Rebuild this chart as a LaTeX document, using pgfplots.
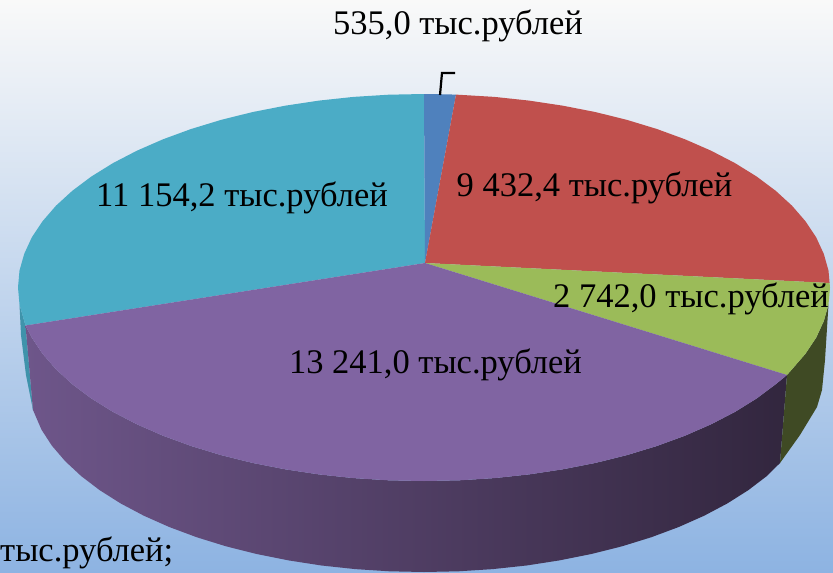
\documentclass[border=0pt]{standalone}
\usepackage{pgfplots}
\pgfplotsset{compat=1.18}
\usepackage{fontspec}
\setmainfont{Liberation Serif}
\definecolor{cblue}{HTML}{4F81BD}
\definecolor{cred}{HTML}{C0504D}
\definecolor{cgreen}{HTML}{9BBB59}
\definecolor{cpurple}{HTML}{8064A2}
\definecolor{cteal}{HTML}{4BACC6}
\definecolor{sgreen}{HTML}{3F4A24}
\definecolor{steal}{HTML}{3F93AB}
\newcommand{\lab}{\fontsize{34.5}{34.5}\selectfont}
\begin{document}
\begin{tikzpicture}
\begin{axis}[
  scale only axis,
  width=833pt,
  height=573pt,
  hide axis,
  xmin=0, xmax=833,
  ymin=0, ymax=573,
  y dir=reverse,
  every axis plot/.append style={draw=none,line join=round},
  nodes={inner sep=0pt,text=black,font=\lab},
]
% background
\addplot[shading=axis,top color={rgb,255:red,249;green,249;blue,249},middle color={rgb,255:red,230;green,237;blue,245},bottom color={rgb,255:red,141;green,179;blue,226}] coordinates {(0,0)(833,0)(833,573)(0,573)} -- cycle;
% side faces
\addplot[fill=steal] coordinates {(19.5,304.4)(25.5,325.5)(33,410)(26,375)(21,335)} -- cycle;
\addplot[left color={rgb,255:red,110;green,86;blue,138},middle color={rgb,255:red,74;green,58;blue,94},right color={rgb,255:red,50;green,38;blue,62}] coordinates {
  (25.5,325.5)(31.8,337.6)(42.5,353.7)(56,369.3)(72.4,384.3)(91.4,398.5)(113,411.9)(136.9,424.3)(163,435.7)(191.1,446)(221,455.1)(252.4,462.9)(285.1,469.3)(318.9,474.4)(353.5,478.1)(388.6,480.3)(424,481)(459.4,480.3)(494.5,478.1)(529.1,474.4)(562.9,469.3)(595.6,462.9)(627,455.1)(656.9,446)(685,435.7)(711.1,424.3)(735,411.9)(756.6,398.5)(775.6,384.3)(787,375)
  (780,463)(766.9,476)(748.4,490.1)(727.4,503.4)(704,515.8)(678.5,527.1)(651.1,537.3)(622,546.3)(591.4,554)(559.4,560.4)(526.5,565.5)(492.8,569.1)(458.5,571.3)(424,572)(389.5,571.3)(355.2,569.1)(321.5,565.5)(288.6,560.4)(256.6,554)(226,546.3)(196.9,537.3)(169.5,527.1)(144,515.8)(120.6,503.4)(99.6,490.1)(81.1,476)(65.1,461.1)(51.9,445.7)(41.5,429.7)(33,410)
} -- cycle;
\addplot[fill=sgreen] coordinates {(787,375)(792,369.3)(805.5,353.7)(816.2,337.6)(823.8,321.1)(828.5,304.4)(825,360)(822,390)(817,407)(800,435)(780,463)} -- cycle;
% top faces
\addplot[fill=cteal] coordinates {(425,263)(25.5,325.5)(19.5,304.4)(18,287.5)(19.5,270.6)(24.2,253.9)(31.8,237.4)(42.5,221.3)(56,205.7)(72.4,190.7)(91.4,176.5)(113,163.1)(136.9,150.7)(163,139.3)(191.1,129)(221,119.9)(252.4,112.1)(285.1,105.7)(318.9,100.6)(353.5,96.9)(388.6,94.7)(424,94)} -- cycle;
\addplot[fill=cblue] coordinates {(425,263)(424,94)(440,94.2)(456,94.6)} -- cycle;
\addplot[fill=cred] coordinates {(425,263)(456,94.6)(494.5,96.9)(529.1,100.6)(562.9,105.7)(595.6,112.1)(627,119.9)(656.9,129)(685,139.3)(711.1,150.7)(735,163.1)(756.6,176.5)(775.6,190.7)(792,205.7)(805.5,221.3)(816.2,237.4)(823.8,253.9)(828.5,270.6)(829.6,283)} -- cycle;
\addplot[fill=cgreen] coordinates {(425,263)(829.6,283)(830,287.5)(828.5,304.4)(823.8,321.1)(816.2,337.6)(805.5,353.7)(792,369.3)(787,375)} -- cycle;
\addplot[fill=cpurple] coordinates {(425,263)(787,375)(775.6,384.3)(756.6,398.5)(735,411.9)(711.1,424.3)(685,435.7)(656.9,446)(627,455.1)(595.6,462.9)(562.9,469.3)(529.1,474.4)(494.5,478.1)(459.4,480.3)(424,481)(388.6,480.3)(353.5,478.1)(318.9,474.4)(285.1,469.3)(252.4,462.9)(221,455.1)(191.1,446)(163,435.7)(136.9,424.3)(113,411.9)(91.4,398.5)(72.4,384.3)(56,369.3)(42.5,353.7)(31.8,337.6)(25.5,325.5)} -- cycle;
% leader line
\addplot[draw=black,line width=2.2pt,line join=miter] coordinates {(440,95)(442,73)(455,73)};
% labels
\node[anchor=base] at (axis cs:458,34) {535,0 тыс.рублей};
\node[anchor=base] at (axis cs:594.5,196) {9 432,4 тыс.рублей};
\node[anchor=base] at (axis cs:242,206) {11 154,2 тыс.рублей};
\node[anchor=base] at (axis cs:691,307) {2 742,0 тыс.рублей};
\node[anchor=base] at (axis cs:435.5,373) {13 241,0 тыс.рублей};
\node[anchor=base west] at (axis cs:0,561) {тыс.рублей;};
\end{axis}
\end{tikzpicture}
\end{document}
